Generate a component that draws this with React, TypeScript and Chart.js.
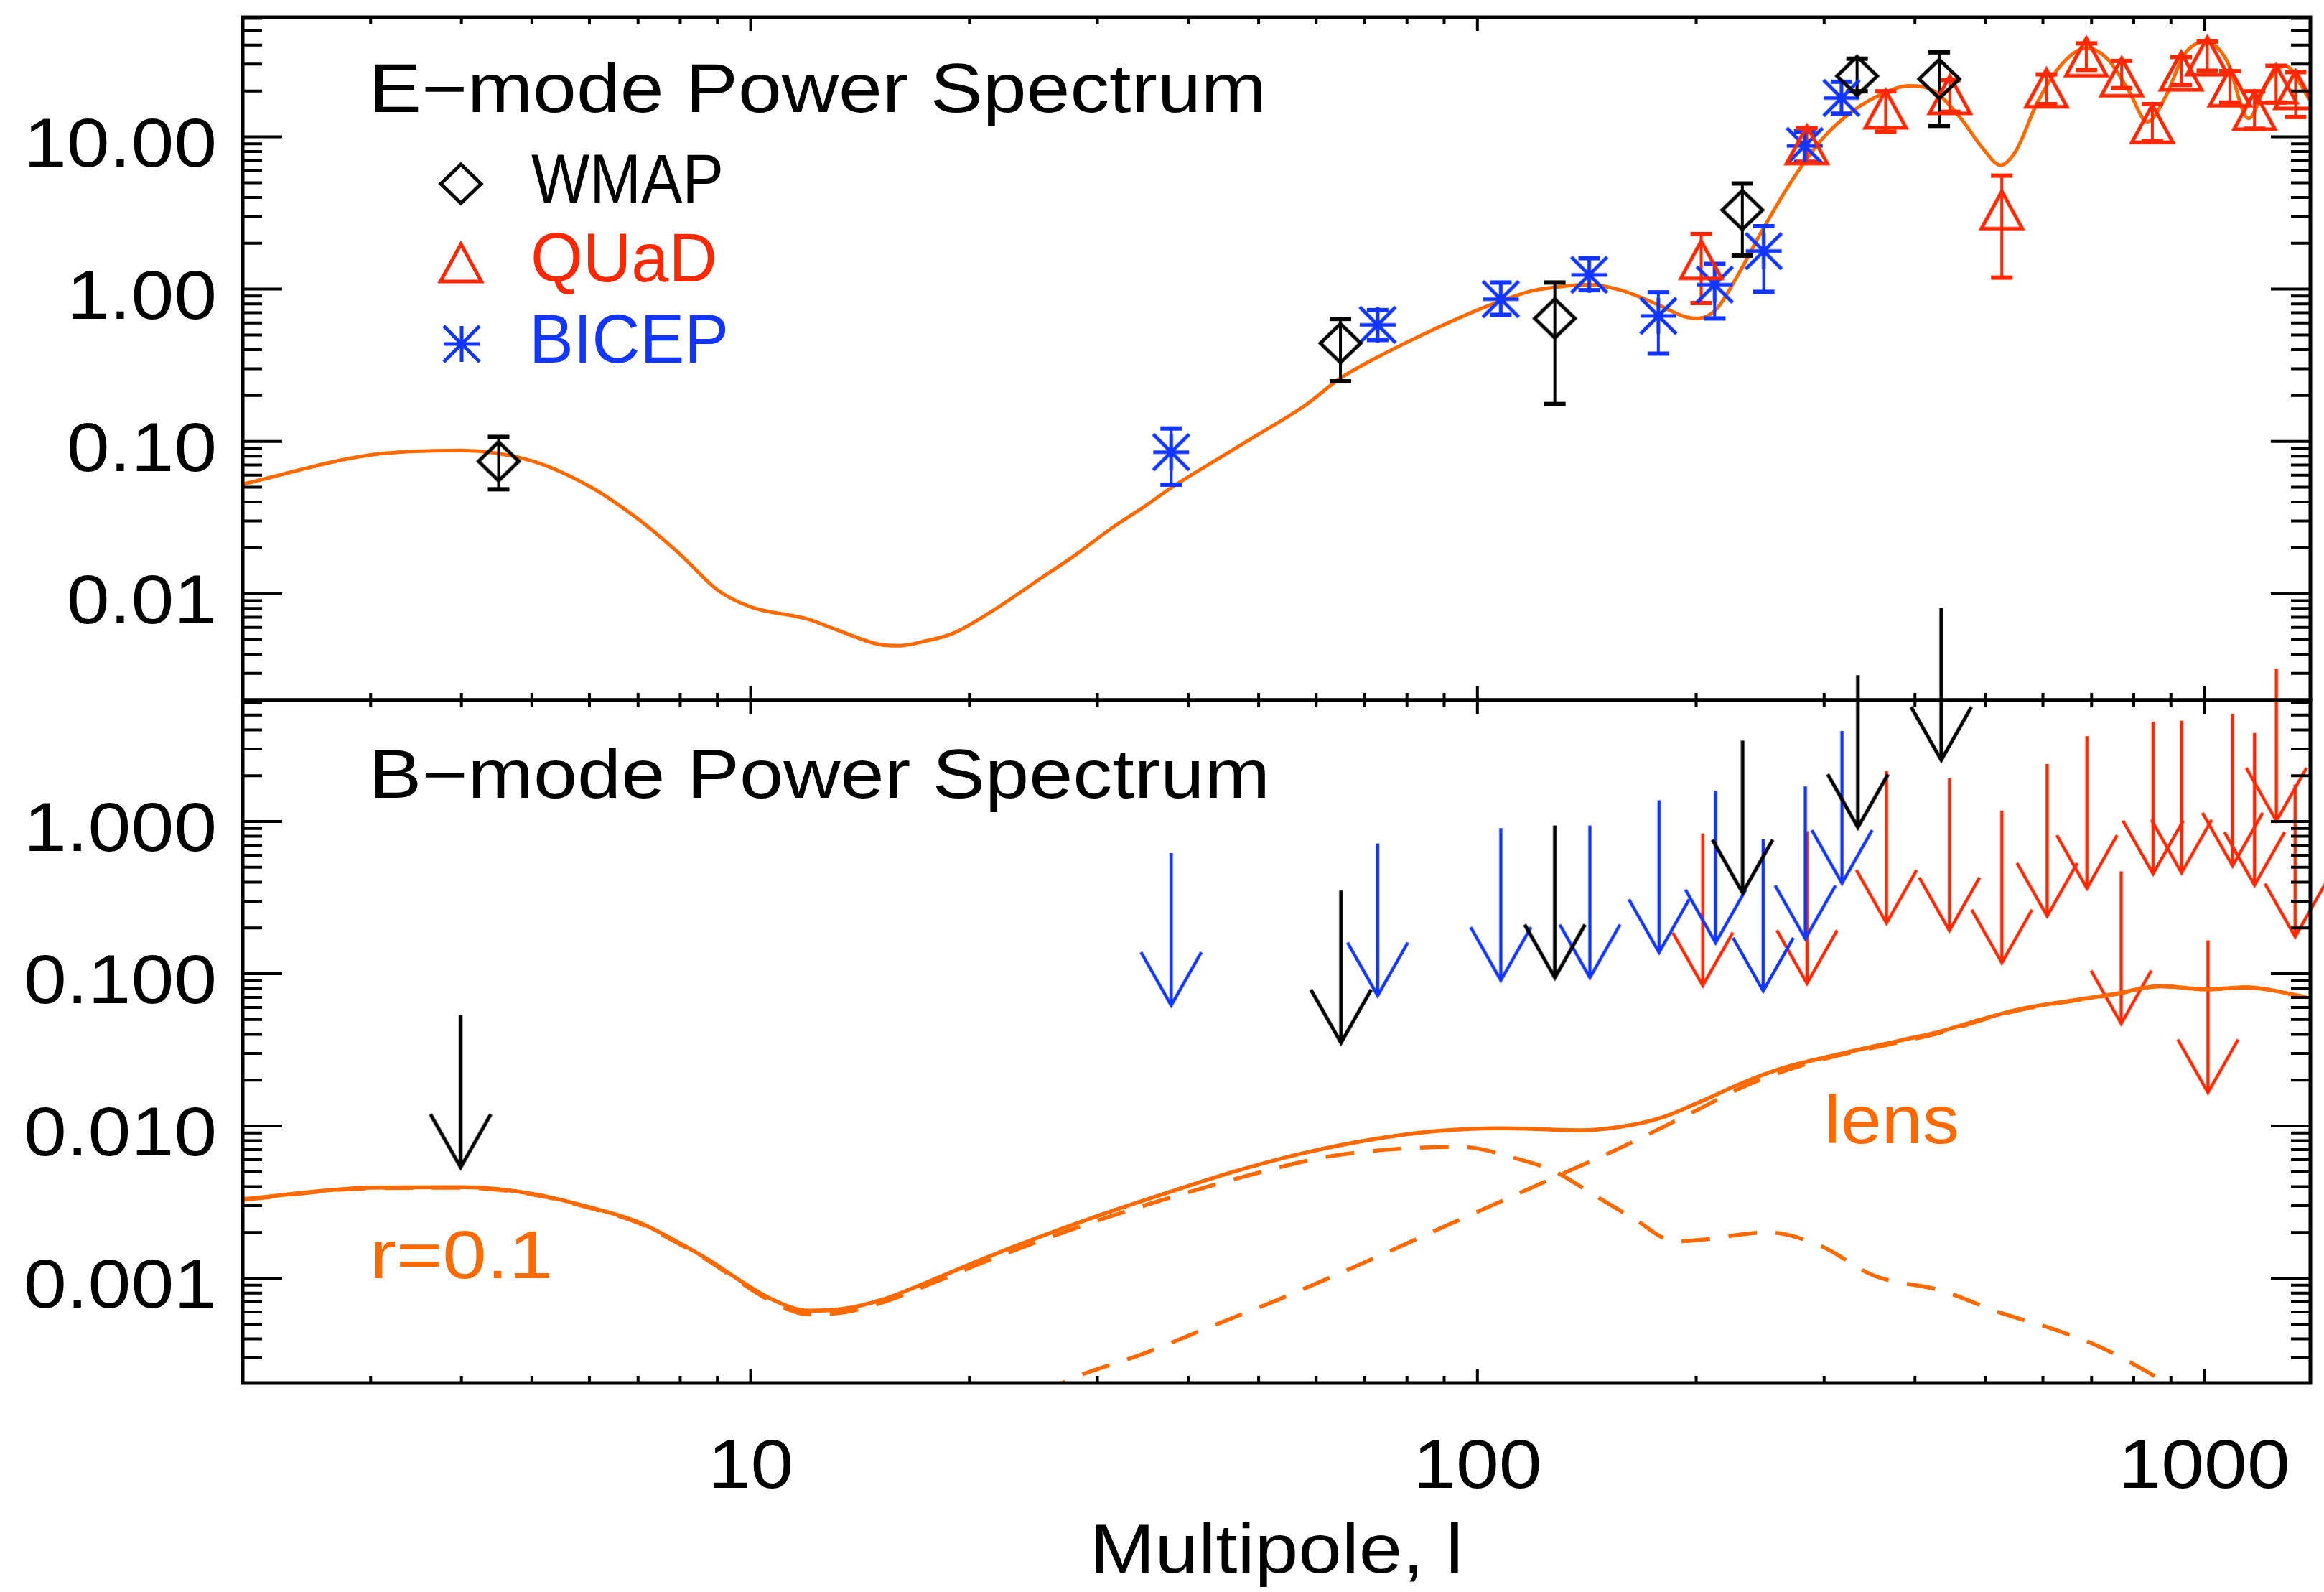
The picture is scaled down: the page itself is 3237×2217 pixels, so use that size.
import React, { useEffect, useRef } from 'react';
import { Chart, registerables } from 'chart.js';

Chart.register(...registerables);

// ================= DATA =================
// E-mode theory curve (multipole l, power)
const E_MODEL_L = [2, 3, 4, 5, 6, 7, 8, 9, 10, 12, 13, 15, 16, 17.3, 19, 21.5, 25, 28, 31.4, 35, 38, 43, 49.6, 57.8, 64.8, 72.5, 84.4, 98.2, 106, 118.7, 128, 138, 143, 157.6, 177, 191.4, 200.9, 213, 227.9, 246.3, 271.4, 299, 329.4, 362.9, 392.3, 423.9, 462.6, 495, 524.6, 550.8, 589.5, 637, 688.4, 736.8, 788.2, 835.3, 885.6, 938.6, 1004.6, 1075, 1151, 1220, 1292, 1396];
const E_MODEL_V = [0.0524, 0.0815, 0.0873, 0.0745, 0.0507, 0.0309, 0.0181, 0.0106, 0.0082, 0.0068, 0.0059, 0.00465, 0.00455, 0.00486, 0.0055, 0.0077, 0.0125, 0.018, 0.027, 0.038, 0.05, 0.072, 0.109, 0.171, 0.26, 0.353, 0.507, 0.703, 0.812, 0.973, 1.03, 1.065, 1.07, 0.984, 0.792, 0.668, 0.642, 0.735, 1.22, 2.41, 5.24, 9.84, 14.9, 19.4, 21.6, 20.1, 13.2, 8.5, 6.52, 8.09, 16.8, 30.0, 38.2, 32.3, 19.9, 12.55, 18.5, 34.7, 42.2, 31.5, 13.2, 22.5, 29.3, 17.6];

// E-mode measurements
const WMAP_E_L = [4.5, 64.8, 127.8, 231.5, 333, 432];
const WMAP_E_V = [0.074, 0.442, 0.642, 3.31, 25.1, 24.0];
const WMAP_E_LO = [0.0485, 0.248, 0.176, 1.66, 19.9, 11.8];
const WMAP_E_HI = [0.107, 0.637, 1.105, 4.94, 32.6, 35.9];

const QUAD_E_L = [203.2, 284, 364.5, 446.7, 526.7, 606.7, 688.4, 770, 848.6, 929.7, 1010, 1085, 1173, 1256, 1336];
const QUAD_E_V = [1.56, 8.85, 15.2, 18.9, 3.31, 20.9, 33.4, 24.7, 12.2, 27.0, 33.9, 21.2, 14.9, 22.2, 20.4];
const QUAD_E_LO = [0.81, 6.84, 10.8, 14.6, 1.19, 16.4, 27.5, 20.9, 9.38, 21.9, 27.2, 16.8, 11.3, 16.8, 13.5];
const QUAD_E_HI = [2.3, 11.4, 19.9, 23.6, 5.56, 25.7, 41.1, 31.5, 16.4, 33.4, 42.2, 27.0, 19.9, 29.3, 26.6];

const BICEP_E_L = [37.9, 72.9, 107.7, 142.5, 177.4, 212.1, 247.7, 282.1, 316.9];
const BICEP_E_V = [0.085, 0.582, 0.859, 1.24, 0.667, 1.07, 1.777, 8.72, 18.0];
const BICEP_E_LO = [0.052, 0.4635, 0.678, 0.984, 0.377, 0.642, 0.96, 6.85, 14.2];
const BICEP_E_HI = [0.1216, 0.728, 1.105, 1.596, 0.952, 1.465, 2.59, 10.85, 23.0];

// B-mode theory curves
const B_MODEL_L = [2, 3, 4, 5, 6, 7, 7.9, 8.8, 9.5, 10.6, 12, 13.4, 15.2, 17.6, 20.8, 24.7, 30.4, 37.6, 46.4, 57.3, 70.7, 87.4, 107.9, 138.9, 157.6, 178.9, 203, 230.5, 261.5, 309.6, 382.2, 433.9, 492.3, 558.7, 661.4, 750.6, 869.9, 1008, 1144, 1383];
const B_TOTAL_V = [0.00331, 0.00393, 0.00396, 0.00359, 0.00293, 0.00234, 0.00175, 0.0013, 0.00102, 0.000743, 0.000612, 0.000629, 0.000726, 0.000953, 0.00133, 0.00183, 0.00262, 0.00367, 0.00504, 0.0066, 0.00808, 0.00925, 0.00967, 0.00937, 0.00989, 0.01133, 0.0145, 0.019, 0.0238, 0.0291, 0.0365, 0.0418, 0.05, 0.0586, 0.067, 0.0734, 0.0829, 0.0792, 0.0813, 0.0702];

const B_TENSOR_L = [2, 3, 4, 5, 6, 7, 7.9, 8.8, 9.5, 10.6, 12, 13.4, 15.2, 17.6, 20.8, 24.7, 29.2, 37.6, 52.7, 62.3, 77, 95.1, 112.5, 127.7, 144.9, 164.4, 187.2, 203, 250.7, 296.7, 351.4, 433.9, 524.4, 620.6, 719.5, 816.7, 907.4];
const B_TENSOR_V = [0.00328, 0.0039, 0.00393, 0.00356, 0.0029, 0.00231, 0.00172, 0.00128, 0.001, 0.00072, 0.00058, 0.000595, 0.000695, 0.00091, 0.00126, 0.00172, 0.00229, 0.00336, 0.00527, 0.0063, 0.00706, 0.00728, 0.00617, 0.00503, 0.00351, 0.00245, 0.00175, 0.00179, 0.002, 0.00163, 0.00104, 0.000832, 0.000593, 0.000463, 0.000353, 0.000258, 0.000192];

const B_LENS_L = [25, 27.4, 34.6, 43.6, 52.7, 65, 77, 91.1, 107.9, 133.2, 157.6, 194.7, 240.4, 296.9, 382.2, 433.9, 492.3, 558.7, 661.4, 750.6, 869.9, 1008, 1144, 1383];
const B_LENS_V = [0.00017, 0.000215, 0.000318, 0.000495, 0.00071, 0.00109, 0.00156, 0.00224, 0.00321, 0.00503, 0.00722, 0.01185, 0.01944, 0.0272, 0.0357, 0.041, 0.0494, 0.058, 0.0665, 0.0731, 0.0827, 0.079, 0.0812, 0.0701];

// B-mode upper limits
const WMAP_B_L = [3.99, 64.9, 127.8, 231.7, 333.8, 434.7];
const WMAP_B_UL = [0.0535, 0.352, 0.942, 3.4, 9.15, 25.3];
const BICEP_B_L = [37.9, 72.9, 107.7, 142.8, 177.8, 212.7, 247.3, 282.6, 317.4];
const BICEP_B_UL = [0.62, 0.718, 0.905, 0.942, 1.38, 1.597, 0.771, 1.7, 3.93];
const QUAD_B_L = [204.2, 284.1, 365.5, 446.1, 526.8, 608, 689.6, 768.8, 850.4, 930.8, 1012, 1094, 1173, 1257, 1334];
const QUAD_B_UL = [0.836, 0.864, 2.15, 1.92, 1.18, 2.39, 3.64, 0.47, 4.53, 4.6, 0.1657, 5.11, 3.82, 10.08, 1.75];

// Axis ticks / labels
const X_TICKS = [10, 100, 1000];
const X_LABELS = ['10', '100', '1000'];
const E_Y_TICKS = [10, 1, 0.1, 0.01];
const E_Y_LABELS = ['10.00', '1.00', '0.10', '0.01'];
const B_Y_TICKS = [1, 0.1, 0.01, 0.001];
const B_Y_LABELS = ['1.000', '0.100', '0.010', '0.001'];

// ================= LAYOUT / STYLE =================
const CW = 3237;
const CH = 2217;
const AREA_LEFT = 338;
const AREA_RIGHT = 3218;
const TOP_TOP = 24;
const SPLIT = 975;
const BOT_BOTTOM = 1926;

const X_RANGE = [2, 1400];
const E_RANGE = [0.002, 61];
const B_RANGE = [0.000205, 6.27];

const ORANGE = '#ff6a00';
const RED = '#ff2800';
const BLUE = '#1236ff';
const BLACK = '#000000';
const FONT = '"Liberation Sans", Arial, Helvetica, sans-serif';

// ================= helpers =================
function mkCanvas(w: number, h: number) {
  const c = document.createElement('canvas');
  c.width = w;
  c.height = h;
  return c;
}

function diamondMarker(color: string) {
  const c = mkCanvas(76, 76);
  const g = c.getContext('2d')!;
  const cx = 38, cy = 38, rx = 28, ry = 27;
  g.strokeStyle = color;
  g.lineWidth = 5;
  g.lineJoin = 'miter';
  g.beginPath();
  g.moveTo(cx, cy - ry);
  g.lineTo(cx + rx, cy);
  g.lineTo(cx, cy + ry);
  g.lineTo(cx - rx, cy);
  g.closePath();
  g.stroke();
  return c;
}

function triangleMarker(color: string) {
  const c = mkCanvas(80, 80);
  const g = c.getContext('2d')!;
  const cx = 40, cy = 40, hw = 28.5, hh = 26;
  g.strokeStyle = color;
  g.lineWidth = 5;
  g.lineJoin = 'miter';
  g.beginPath();
  g.moveTo(cx, cy - hh);
  g.lineTo(cx + hw, cy + hh);
  g.lineTo(cx - hw, cy + hh);
  g.closePath();
  g.stroke();
  return c;
}

function asteriskMarker(color: string) {
  const c = mkCanvas(64, 64);
  const g = c.getContext('2d')!;
  const cx = 32, cy = 32, r = 25;
  g.strokeStyle = color;
  g.lineWidth = 5;
  g.lineCap = 'butt';
  g.beginPath();
  g.moveTo(cx - r, cy); g.lineTo(cx + r, cy);
  g.moveTo(cx, cy - r); g.lineTo(cx, cy + r);
  g.moveTo(cx - r, cy - r); g.lineTo(cx + r, cy + r);
  g.moveTo(cx - r, cy + r); g.lineTo(cx + r, cy - r);
  g.stroke();
  return c;
}

// arrow whose top end sits at the data point (shaft points down, V head at bottom)
function arrowMarker(color: string, lw: number) {
  const len = 212, hw = 42, hh = 74;
  const c = mkCanvas(100, 2 * (len + 10));
  const g = c.getContext('2d')!;
  const cx = 50, cy = len + 10;
  g.strokeStyle = color;
  g.lineWidth = lw;
  g.lineCap = 'butt';
  g.lineJoin = 'miter';
  g.beginPath();
  g.moveTo(cx, cy);
  g.lineTo(cx, cy + len);
  g.stroke();
  g.beginPath();
  g.moveTo(cx - hw, cy + len - hh);
  g.lineTo(cx, cy + len);
  g.lineTo(cx + hw, cy + len - hh);
  g.stroke();
  return c;
}

function pts(L: number[], V: number[]) {
  return L.map((l, i) => ({ x: l, y: V[i] }));
}

function errorBars(L: number[], LO: number[], HI: number[]) {
  const out: any[] = [];
  L.forEach((l, i) => {
    out.push({ x: l, y: LO[i] }, { x: l, y: HI[i] }, { x: l, y: null });
  });
  return out;
}

function logTicks(min: number, max: number) {
  const res: { v: number; major: boolean }[] = [];
  for (let d = Math.floor(Math.log10(min)) - 1; d <= Math.ceil(Math.log10(max)); d++) {
    for (let k = 1; k <= 9; k++) {
      const v = k * Math.pow(10, d);
      if (v > min * 1.003 && v < max / 1.003) res.push({ v, major: k === 1 });
    }
  }
  return res;
}

function drawText(ctx: CanvasRenderingContext2D, s: string, x: number, y: number, o: any = {}) {
  ctx.save();
  ctx.font = `${o.size || 96}px ${FONT}`;
  ctx.fillStyle = o.color || BLACK;
  ctx.textAlign = o.align || 'left';
  ctx.textBaseline = 'alphabetic';
  let sx = o.sx || 1.12;
  if (o.width) sx = o.width / ctx.measureText(s).width;
  ctx.translate(x, y);
  ctx.scale(sx, 1);
  ctx.fillText(s, 0, 0);
  ctx.restore();
}

function axesPlugin(opts: any) {
  return {
    id: 'idlAxes_' + opts.name,
    afterDraw(chart: any) {
      const ctx: CanvasRenderingContext2D = chart.ctx;
      const a = chart.chartArea;
      const xs = chart.scales.x;
      const ys = chart.scales.y;
      ctx.save();
      ctx.strokeStyle = BLACK;
      ctx.lineCap = 'butt';
      ctx.lineWidth = 4;
      ctx.beginPath();
      for (const t of logTicks(X_RANGE[0], X_RANGE[1])) {
        const px = xs.getPixelForValue(t.v);
        const len = t.major ? 19 : 10;
        ctx.moveTo(px, a.top); ctx.lineTo(px, a.top + len);
        ctx.moveTo(px, a.bottom); ctx.lineTo(px, a.bottom - len);
      }
      for (const t of logTicks(opts.yRange[0], opts.yRange[1])) {
        const py = ys.getPixelForValue(t.v);
        const len = t.major ? 55 : 27;
        ctx.moveTo(a.left, py); ctx.lineTo(a.left + len, py);
        ctx.moveTo(a.right, py); ctx.lineTo(a.right - len, py);
      }
      ctx.stroke();
      ctx.lineWidth = 5;
      ctx.strokeRect(a.left, a.top, a.right - a.left, a.bottom - a.top);

      opts.yTicks.forEach((v: number, i: number) => {
        drawText(ctx, opts.yLabels[i], 302, ys.getPixelForValue(v) + 41, { align: 'right' });
      });
      if (opts.xTicks) {
        opts.xTicks.forEach((v: number, i: number) => {
          drawText(ctx, opts.xLabels[i], xs.getPixelForValue(v), 2072, { align: 'center' });
        });
      }
      opts.texts.forEach((t: any) => drawText(ctx, t.s, t.x, t.y, t));
      if (opts.legend) {
        opts.legend.forEach((m: any) => {
          ctx.drawImage(m.img, m.x - m.img.width / 2, m.y - m.img.height / 2);
        });
      }
      ctx.restore();
    },
  };
}

function baseOptions(padding: any, yRange: number[]) {
  return {
    responsive: false,
    animation: false as const,
    devicePixelRatio: 1,
    events: [],
    layout: { padding, autoPadding: false },
    plugins: { legend: { display: false }, tooltip: { enabled: false } },
    scales: {
      x: { type: 'logarithmic' as const, min: X_RANGE[0], max: X_RANGE[1], display: false },
      y: { type: 'logarithmic' as const, min: yRange[0], max: yRange[1], display: false },
    },
  };
}

function errDataset(L: number[], LO: number[], HI: number[], color: string) {
  return {
    type: 'line',
    data: errorBars(L, LO, HI),
    borderColor: color,
    borderWidth: 4,
    spanGaps: false,
    tension: 0,
    pointStyle: 'line',
    pointRadius: 15,
    pointBorderWidth: 6,
    pointBorderColor: color,
    pointBackgroundColor: color,
    order: 5,
  };
}

function markerDataset(L: number[], V: number[], img: HTMLCanvasElement) {
  return {
    type: 'scatter',
    data: pts(L, V),
    pointStyle: img,
    pointRadius: 30,
    order: 1,
  };
}

function arrowDataset(L: number[], UL: number[], img: HTMLCanvasElement) {
  return {
    type: 'scatter',
    data: pts(L, UL),
    pointStyle: img,
    pointRadius: 240,
    clip: false,
    order: 5,
  };
}

export default function App() {
  const topRef = useRef<HTMLCanvasElement>(null);
  const botRef = useRef<HTMLCanvasElement>(null);

  useEffect(() => {
    document.body.style.margin = '0';
    document.body.style.overflow = 'hidden';

    const dia = diamondMarker(BLACK);
    const tri = triangleMarker(RED);
    const ast = asteriskMarker(BLUE);

    const topChart = new Chart(topRef.current as HTMLCanvasElement, {
      type: 'line',
      data: {
        datasets: [
          {
            type: 'line',
            data: pts(E_MODEL_L, E_MODEL_V),
            borderColor: ORANGE,
            borderWidth: 5,
            pointRadius: 0,
            cubicInterpolationMode: 'monotone',
            order: 10,
          },
          errDataset(WMAP_E_L, WMAP_E_LO, WMAP_E_HI, BLACK),
          errDataset(QUAD_E_L, QUAD_E_LO, QUAD_E_HI, RED),
          errDataset(BICEP_E_L, BICEP_E_LO, BICEP_E_HI, BLUE),
          markerDataset(WMAP_E_L, WMAP_E_V, dia),
          markerDataset(QUAD_E_L, QUAD_E_V, tri),
          markerDataset(BICEP_E_L, BICEP_E_V, ast),
        ] as any,
      },
      options: baseOptions({ left: AREA_LEFT, right: CW - AREA_RIGHT, top: TOP_TOP, bottom: CH - SPLIT }, E_RANGE) as any,
      plugins: [
        axesPlugin({
          name: 'top',
          yRange: E_RANGE,
          yTicks: E_Y_TICKS,
          yLabels: E_Y_LABELS,
          texts: [
            { s: 'E\u2212mode Power Spectrum', x: 514, y: 156, width: 1250 },
            { s: 'WMAP', x: 740, y: 282, width: 268 },
            { s: 'QUaD', x: 739, y: 392, width: 260, color: RED },
            { s: 'BICEP', x: 737, y: 505, width: 278, color: BLUE },
          ],
          legend: [
            { img: dia, x: 642, y: 256 },
            { img: tri, x: 642, y: 366 },
            { img: ast, x: 643, y: 479 },
          ],
        }),
      ],
    });

    const botChart = new Chart(botRef.current as HTMLCanvasElement, {
      type: 'line',
      data: {
        datasets: [
          arrowDataset(WMAP_B_L, WMAP_B_UL, arrowMarker(BLACK, 5)),
          arrowDataset(BICEP_B_L, BICEP_B_UL, arrowMarker(BLUE, 4.5)),
          arrowDataset(QUAD_B_L, QUAD_B_UL, arrowMarker(RED, 4.5)),
          {
            type: 'line',
            data: pts(B_TENSOR_L, B_TENSOR_V),
            borderColor: ORANGE,
            borderWidth: 5.5,
            borderDash: [40, 26],
            pointRadius: 0,
            cubicInterpolationMode: 'monotone',
            order: 2,
          },
          {
            type: 'line',
            data: pts(B_LENS_L, B_LENS_V),
            borderColor: ORANGE,
            borderWidth: 5.5,
            borderDash: [40, 26],
            pointRadius: 0,
            cubicInterpolationMode: 'monotone',
            order: 2,
          },
          {
            type: 'line',
            data: pts(B_MODEL_L, B_TOTAL_V),
            borderColor: ORANGE,
            borderWidth: 5.5,
            pointRadius: 0,
            cubicInterpolationMode: 'monotone',
            order: 1,
          },
        ] as any,
      },
      options: baseOptions({ left: AREA_LEFT, right: CW - AREA_RIGHT, top: SPLIT, bottom: CH - BOT_BOTTOM }, B_RANGE) as any,
      plugins: [
        axesPlugin({
          name: 'bottom',
          yRange: B_RANGE,
          yTicks: B_Y_TICKS,
          yLabels: B_Y_LABELS,
          xTicks: X_TICKS,
          xLabels: X_LABELS,
          texts: [
            { s: 'B\u2212mode Power Spectrum', x: 514, y: 1111, width: 1255 },
            { s: 'r=0.1', x: 515, y: 1780, width: 255, color: ORANGE, size: 94 },
            { s: 'lens', x: 2541, y: 1592, width: 188, color: ORANGE, size: 94 },
            { s: 'Multipole, l', x: 1778, y: 2190, width: 520, align: 'center' },
          ],
        }),
      ],
    });

    return () => {
      topChart.destroy();
      botChart.destroy();
    };
  }, []);

  const cs: React.CSSProperties = { position: 'absolute', left: 0, top: 0, width: CW, height: CH };
  return (
    <div style={{ position: 'relative', width: CW, height: CH, background: '#ffffff', overflow: 'hidden' }}>
      <canvas ref={botRef} width={CW} height={CH} style={cs} />
      <canvas ref={topRef} width={CW} height={CH} style={cs} />
    </div>
  );
}
